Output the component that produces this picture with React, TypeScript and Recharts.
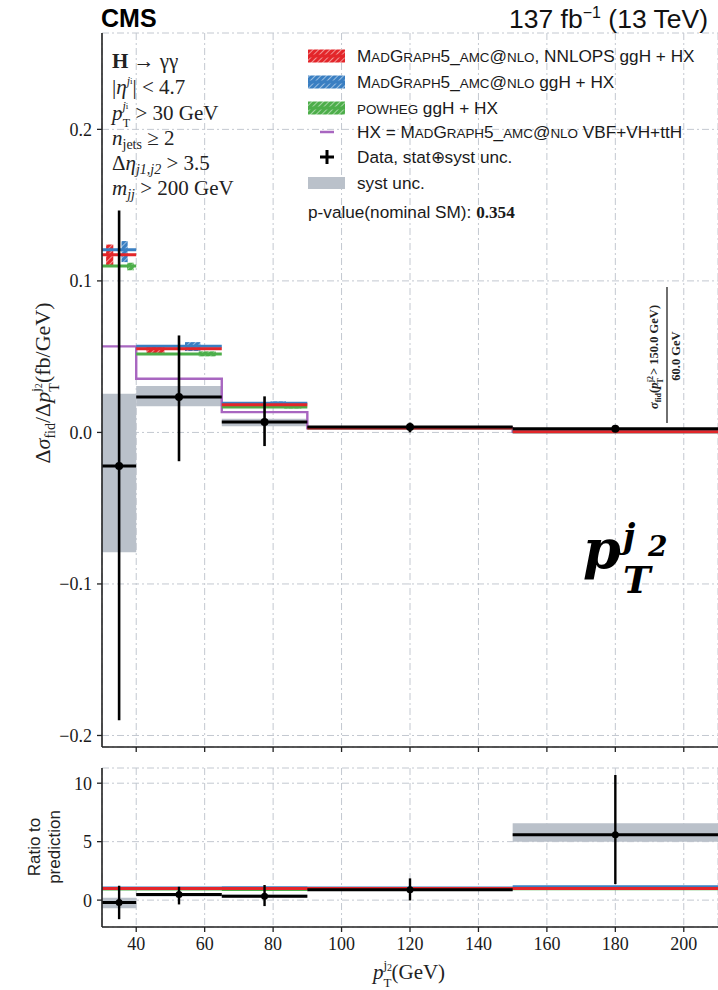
import React from 'react';
import {
  ComposedChart,
  Line,
  Scatter,
  XAxis,
  YAxis,
  CartesianGrid,
  ReferenceArea,
  ErrorBar,
} from 'recharts';

// Bin edges of the subleading-jet pT distribution (GeV)
const binEdges = [30, 40, 65, 90, 150, 210];
const binCenters = [35, 52.5, 77.5, 120, 180];
const xTicks = [40, 60, 80, 100, 120, 140, 160, 180, 200];
const yTicksMain = [-0.2, -0.1, 0.0, 0.1, 0.2];
const yTicksRatio = [0, 5, 10];

// Differential cross section predictions (fb/GeV)
const predNnlops = [0.1173, 0.0552, 0.0183, 0.003, 0.00043];
const predNnlopsLo = [0.110, 0.0523, 0.0172, 0.0027, 0.0003];
const predNnlopsHi = [0.124, 0.0574, 0.0194, 0.0033, 0.0005];
const predMg5 = [0.1206, 0.0568, 0.0193, 0.0031, 0.0005];
const predMg5Lo = [0.1124, 0.0537, 0.0183, 0.0028, 0.0004];
const predMg5Hi = [0.1263, 0.0596, 0.0205, 0.0034, 0.0006];
const predPowheg = [0.1098, 0.0517, 0.0167, 0.0029, 0.00042];
const predPowhegLo = [0.107, 0.0502, 0.0158, 0.0027, 0.0003];
const predPowhegHi = [0.112, 0.0535, 0.0176, 0.0031, 0.0005];
const predHx = [0.0568, 0.0354, 0.0134, 0.0028, 0.0004];

// Measurement (fb/GeV)
const dataValue = [-0.0222, 0.0233, 0.0068, 0.0035, 0.0024];
const dataErrUp = [0.1687, 0.0407, 0.017, 0.003, 0.0006];
const dataErrDown = [0.1678, 0.0423, 0.0158, 0.0035, 0.0006];
const systLo = [-0.079, 0.0172, 0.004, 0.0028, 0.0021];
const systHi = [0.0255, 0.0306, 0.009, 0.0038, 0.0027];

// Ratio to the NNLOPS prediction
const ratioData = [-0.2, 0.49, 0.34, 0.89, 5.6];
const ratioErrUp = [1.43, 0.65, 0.95, 0.97, 5.1];
const ratioErrDown = [1.43, 0.86, 0.85, 0.92, 4.23];
const ratioSystLo = [-0.7, 0.31, 0.22, 0.8, 5.0];
const ratioSystHi = [0.2, 0.55, 0.49, 0.97, 6.57];
const ratioNnlops = [1, 1, 1, 1, 1];
const ratioMg5 = [1.03, 1.03, 1.05, 1.03, 1.15];
const ratioPowheg = [0.94, 0.94, 0.91, 0.97, 0.97];

const RED = '#e3262a';
const BLUE = '#3a7fc2';
const GREEN = '#4dae4a';
const PURPLE = '#a866c0';
const GRAY = '#bac1ca';
const FRAME = '#222';
const GRID = '#c3c8d0';

const serif = "'Liberation Serif', 'DejaVu Serif', serif";
const sans = "'Liberation Sans', Arial, sans-serif";

type Pt = { x: number; y: number | null };

// Horizontal segment per bin, broken between bins
function binSegments(values: number[]): Pt[] {
  const pts: Pt[] = [];
  values.forEach((v, i) => {
    pts.push({ x: binEdges[i], y: v });
    pts.push({ x: binEdges[i + 1], y: v });
    pts.push({ x: binEdges[i + 1], y: null });
  });
  return pts;
}

// Continuous step histogram
function stepPoints(values: number[]): Pt[] {
  const pts: Pt[] = values.map((v, i) => ({ x: binEdges[i], y: v }));
  pts.push({ x: binEdges[binEdges.length - 1], y: values[values.length - 1] });
  return pts;
}

function pointsWithErrors(values: number[], up: number[], down: number[]) {
  return values.map((v, i) => ({
    x: binCenters[i],
    y: v,
    ey: [down[i], up[i]],
    ex: (binEdges[i + 1] - binEdges[i]) / 2,
  }));
}

const fmtMain = (v: number) => (v < 0 ? '\u2212' : '') + Math.abs(v).toFixed(1);

const tickStyle = { fontFamily: serif, fontSize: 18, fill: '#1a1a1a' };
const axisLineStyle = { stroke: FRAME, strokeWidth: 1.6 };
const tickLineStyle = { stroke: FRAME, strokeWidth: 1.3 };

// Hatched uncertainty boxes sit at fixed fractions across each bin
const models = [
  { key: 'powheg', lo: predPowhegLo, hi: predPowhegHi, span: [0.73, 0.93], fill: 'url(#hatchGreen)' },
  { key: 'mg5', lo: predMg5Lo, hi: predMg5Hi, span: [0.57, 0.75], fill: 'url(#hatchBlue)' },
  { key: 'nnlops', lo: predNnlopsLo, hi: predNnlopsHi, span: [0.12, 0.33], fill: 'url(#hatchRed)' },
];

const DataDot = (p: any) => <circle cx={p.cx} cy={p.cy} r={p.r ?? 4} fill="#000" />;

function MainPanel() {
  const dataPts = pointsWithErrors(dataValue, dataErrUp, dataErrDown);
  return (
    <ComposedChart width={718} height={761} margin={{ top: 33, right: 0, left: 42, bottom: 0 }}>
      <CartesianGrid stroke={GRID} strokeDasharray="7 3 2 3" strokeWidth={1} />
      <XAxis
        type="number"
        dataKey="x"
        domain={[30, 210]}
        ticks={xTicks}
        allowDataOverflow
        height={14}
        tickSize={5}
        tickFormatter={() => ''}
        axisLine={axisLineStyle}
        tickLine={tickLineStyle}
      />
      <XAxis xAxisId="top" orientation="top" type="number" domain={[30, 210]} height={0} tick={false} tickLine={false} axisLine={axisLineStyle} />
      <YAxis
        type="number"
        dataKey="y"
        domain={[-0.2076, 0.2636]}
        ticks={yTicksMain}
        allowDataOverflow
        width={60}
        tickSize={5}
        tickMargin={5}
        tickFormatter={fmtMain}
        tick={tickStyle}
        axisLine={axisLineStyle}
        tickLine={tickLineStyle}
      />
      {binCenters.map((_, i) => (
        <ReferenceArea
          key={'syst' + i}
          x1={binEdges[i]}
          x2={binEdges[i + 1]}
          y1={systLo[i]}
          y2={systHi[i]}
          fill={GRAY}
          fillOpacity={1}
          stroke="none"
        />
      ))}
      {models.map((m) =>
        binCenters.map((_, i) => {
          const w = binEdges[i + 1] - binEdges[i];
          return (
            <ReferenceArea
              key={m.key + i}
              x1={binEdges[i] + m.span[0] * w}
              x2={binEdges[i] + m.span[1] * w}
              y1={m.lo[i]}
              y2={m.hi[i]}
              fill={m.fill}
              fillOpacity={1}
              stroke="none"
            />
          );
        })
      )}
      <Line data={stepPoints(predHx)} dataKey="y" type="stepAfter" stroke={PURPLE} strokeWidth={2.4} dot={false} isAnimationActive={false} />
      <Line data={binSegments(predPowheg)} dataKey="y" type="linear" stroke={GREEN} strokeWidth={3} dot={false} connectNulls={false} isAnimationActive={false} />
      <Line data={binSegments(predMg5)} dataKey="y" type="linear" stroke={BLUE} strokeWidth={3} dot={false} connectNulls={false} isAnimationActive={false} />
      <Line data={binSegments(predNnlops)} dataKey="y" type="linear" stroke={RED} strokeWidth={3} dot={false} connectNulls={false} isAnimationActive={false} />
      <Scatter data={dataPts} dataKey="y" shape={<DataDot r={4} />} isAnimationActive={false}>
        <ErrorBar dataKey="ey" direction="y" width={0} stroke="#000" strokeWidth={2.6} />
        <ErrorBar dataKey="ex" direction="x" width={0} stroke="#000" strokeWidth={3} />
      </Scatter>
    </ComposedChart>
  );
}

function RatioPanel() {
  const dataPts = pointsWithErrors(ratioData, ratioErrUp, ratioErrDown);
  return (
    <ComposedChart width={718} height={230} margin={{ top: 8, right: 0, left: 42, bottom: 33 }}>
      <CartesianGrid stroke={GRID} strokeDasharray="7 3 2 3" strokeWidth={1} />
      <XAxis
        type="number"
        dataKey="x"
        domain={[30, 210]}
        ticks={xTicks}
        allowDataOverflow
        height={30}
        tickSize={5}
        tickMargin={5}
        tick={tickStyle}
        axisLine={axisLineStyle}
        tickLine={tickLineStyle}
      />
      <XAxis xAxisId="top" orientation="top" type="number" domain={[30, 210]} height={0} tick={false} tickLine={false} axisLine={axisLineStyle} />
      <YAxis
        type="number"
        dataKey="y"
        domain={[-2.3, 11.3]}
        ticks={yTicksRatio}
        allowDataOverflow
        width={60}
        tickSize={5}
        tickMargin={5}
        tick={tickStyle}
        axisLine={axisLineStyle}
        tickLine={tickLineStyle}
      />
      {binCenters.map((_, i) => (
        <ReferenceArea
          key={'rsyst' + i}
          x1={binEdges[i]}
          x2={binEdges[i + 1]}
          y1={ratioSystLo[i]}
          y2={ratioSystHi[i]}
          fill={GRAY}
          fillOpacity={1}
          stroke="none"
        />
      ))}
      <Line data={binSegments(ratioPowheg)} dataKey="y" type="linear" stroke={GREEN} strokeWidth={3} dot={false} connectNulls={false} isAnimationActive={false} />
      <Line data={binSegments(ratioMg5)} dataKey="y" type="linear" stroke={BLUE} strokeWidth={3} dot={false} connectNulls={false} isAnimationActive={false} />
      <Line data={binSegments(ratioNnlops)} dataKey="y" type="linear" stroke={RED} strokeWidth={3} dot={false} connectNulls={false} isAnimationActive={false} />
      <Scatter data={dataPts} dataKey="y" shape={<DataDot r={3.5} />} isAnimationActive={false}>
        <ErrorBar dataKey="ey" direction="y" width={0} stroke="#000" strokeWidth={2.4} />
        <ErrorBar dataKey="ex" direction="x" width={0} stroke="#000" strokeWidth={3} />
      </Scatter>
    </ComposedChart>
  );
}

// Small capitals: lowercase letters are set as reduced capitals
function SmallCaps({ text, size }: { text: string; size: number }) {
  const runs: { s: string; small: boolean }[] = [];
  for (const ch of text) {
    const small = ch >= 'a' && ch <= 'z';
    const last = runs[runs.length - 1];
    if (last && last.small === small) last.s += ch;
    else runs.push({ s: ch, small });
  }
  return (
    <>
      {runs.map((r, i) => (
        <tspan key={i} fontSize={r.small ? size * 0.78 : size}>
          {r.small ? r.s.toUpperCase() : r.s}
        </tspan>
      ))}
    </>
  );
}

function HatchSymbol({ x, y, fill, color }: { x: number; y: number; fill: string; color: string }) {
  return (
    <g>
      <rect x={x} y={y - 6.5} width={37} height={13} fill={fill} />
      <line x1={x} x2={x + 37} y1={y} y2={y} stroke={color} strokeWidth={3} />
    </g>
  );
}

const LEG = 17.2;

function Annotations() {
  const legendX = 357;
  const rows = [56, 82, 108, 132, 157, 183];
  return (
    <svg width={718} height={990} style={{ position: 'absolute', left: 0, top: 0, pointerEvents: 'none' }}>
      <defs>
        <pattern id="hatchRed" patternUnits="userSpaceOnUse" width="4" height="4" patternTransform="rotate(45)">
          <rect width="4" height="4" fill={RED} />
          <line x1="0" y1="0" x2="0" y2="4" stroke="#fbd0d0" strokeWidth="1.3" />
        </pattern>
        <pattern id="hatchBlue" patternUnits="userSpaceOnUse" width="4" height="4" patternTransform="rotate(45)">
          <rect width="4" height="4" fill={BLUE} />
          <line x1="0" y1="0" x2="0" y2="4" stroke="#cfe0f2" strokeWidth="1.3" />
        </pattern>
        <pattern id="hatchGreen" patternUnits="userSpaceOnUse" width="4" height="4" patternTransform="rotate(45)">
          <rect width="4" height="4" fill={GREEN} />
          <line x1="0" y1="0" x2="0" y2="4" stroke="#d3edd2" strokeWidth="1.3" />
        </pattern>
      </defs>

      {/* header */}
      <text x={101} y={27} fontFamily={sans} fontWeight="bold" fontSize={25} fill="#000">CMS</text>
      <text x={708} y={28} textAnchor="end" fontFamily={sans} fontSize={26.5} fill="#111">
        137 fb<tspan dy={-10} fontSize={16}>{'\u2212'}1</tspan><tspan dy={10}> (13 TeV)</tspan>
      </text>

      {/* selection */}
      <g fontFamily={serif} fontSize={21} fill="#222">
        <text x={112} y={68}><tspan fontWeight="bold">H</tspan> → γγ</text>
        <text x={112} y={94}>
          |<tspan fontStyle="italic">η</tspan>
          <tspan dy={-9} fontSize={12} fontStyle="italic">j</tspan>
          <tspan dy={-1} fontSize={9}>i</tspan>
          <tspan dy={10}>| &lt; 4.7</tspan>
        </text>
        <text x={112} y={120}>
          <tspan fontStyle="italic">p</tspan>
          <tspan dy={-10} fontSize={12} fontStyle="italic">j</tspan>
          <tspan dy={-1} fontSize={9}>i</tspan>
          <tspan dx={-5.5} dy={18} fontSize={12}>T</tspan>
          <tspan dy={-7}> &gt; 30 GeV</tspan>
        </text>
        <text x={112} y={145}>
          <tspan fontStyle="italic">n</tspan>
          <tspan dy={4} fontSize={14}>jets</tspan>
          <tspan dy={-4}> ≥ 2</tspan>
        </text>
        <text x={112} y={170}>
          Δ<tspan fontStyle="italic">η</tspan>
          <tspan dy={4} fontSize={14} fontStyle="italic">j1,j2</tspan>
          <tspan dy={-4}> &gt; 3.5</tspan>
        </text>
        <text x={112} y={195}>
          <tspan fontStyle="italic">m</tspan>
          <tspan dy={4} fontSize={14} fontStyle="italic">jj</tspan>
          <tspan dy={-4}> &gt; 200 GeV</tspan>
        </text>
      </g>

      {/* legend */}
      <HatchSymbol x={308} y={rows[0]} fill="url(#hatchRed)" color={RED} />
      <HatchSymbol x={308} y={rows[1]} fill="url(#hatchBlue)" color={BLUE} />
      <HatchSymbol x={308} y={rows[2]} fill="url(#hatchGreen)" color={GREEN} />
      <line x1={320} x2={334} y1={rows[3]} y2={rows[3]} stroke={PURPLE} strokeWidth={2.5} />
      <line x1={320} x2={334} y1={rows[4]} y2={rows[4]} stroke="#000" strokeWidth={3} />
      <line x1={327} x2={327} y1={rows[4] - 7} y2={rows[4] + 7} stroke="#000" strokeWidth={3} />
      <rect x={308} y={rows[5] - 6} width={37} height={12} fill={GRAY} />
      <g fontFamily={sans} fontSize={LEG} fill="#1a1a1a">
        <text x={legendX} y={rows[0] + 6}><SmallCaps text="MadGraph5_amc@nlo" size={LEG} />, NNLOPS ggH + HX</text>
        <text x={legendX} y={rows[1] + 6}><SmallCaps text="MadGraph5_amc@nlo" size={LEG} /> ggH + HX</text>
        <text x={legendX} y={rows[2] + 6}><SmallCaps text="powheg" size={LEG} /> ggH + HX</text>
        <text x={legendX} y={rows[3] + 6}>HX = <SmallCaps text="MadGraph5_amc@nlo" size={LEG} /> VBF+VH+ttH</text>
        <text x={legendX} y={rows[4] + 6}>Data, stat⊕syst unc.</text>
        <text x={legendX} y={rows[5] + 6}>syst unc.</text>
        <text x={308} y={218}>
          p-value(nominal SM): <tspan fontFamily={serif} fontWeight="bold">0.354</tspan>
        </text>
      </g>

      {/* overflow bin label */}
      <g fontFamily={serif} fontWeight="bold" fill="#222">
        <text x={658} y={357} fontSize={12.5} textAnchor="middle" transform="rotate(-90 658 357)">
          <tspan fontStyle="italic">σ</tspan>
          <tspan dy={3} fontSize={8}>fid</tspan>
          <tspan dy={-3}>(</tspan>
          <tspan fontStyle="italic">p</tspan>
          <tspan dy={-5} fontSize={8}>j2</tspan>
          <tspan dx={-7.5} dy={10} fontSize={8}>T</tspan>
          <tspan dy={-5}> &gt; 150.0 GeV)</tspan>
        </text>
        <line x1={667} x2={667} y1={287} y2={423} stroke="#222" strokeWidth={1.3} />
        <text x={680} y={356} fontSize={12.5} textAnchor="middle" transform="rotate(-90 680 356)">60.0 GeV</text>
      </g>

      {/* large variable label */}
      <g fontFamily="'DejaVu Serif', serif" fontWeight="bold" fontStyle="italic" fill="#000">
        <text x={583} y={568} fontSize={54}>p</text>
        <text x={623} y={548} fontSize={34}>j</text>
        <text x={648} y={556} fontSize={28}>2</text>
        <text x={623} y={593} fontSize={37}>T</text>
      </g>

      {/* axis titles */}
      <text x={50} y={383} fontFamily={serif} fontSize={22} fill="#222" textAnchor="middle" transform="rotate(-90 50 383)">
        Δ<tspan fontStyle="italic">σ</tspan>
        <tspan dy={5} fontSize={14}>fid</tspan>
        <tspan dy={-5}>/Δ</tspan>
        <tspan fontStyle="italic">p</tspan>
        <tspan dy={-10} fontSize={13}>j</tspan>
        <tspan dy={2} fontSize={10}>2</tspan>
        <tspan dx={-8.5} dy={17} fontSize={14}>T</tspan>
        <tspan dy={-9}>(fb/GeV)</tspan>
      </text>
      <g fontFamily={sans} fontSize={17} fill="#222" textAnchor="middle">
        <text x={40} y={847} transform="rotate(-90 40 847)">Ratio to</text>
        <text x={60} y={847} transform="rotate(-90 60 847)">prediction</text>
      </g>
      <text x={409} y={979} fontFamily={serif} fontSize={21} fill="#222" textAnchor="middle">
        <tspan fontStyle="italic">p</tspan>
        <tspan dy={-10} fontSize={13}>j</tspan>
        <tspan dy={2} fontSize={10}>2</tspan>
        <tspan dx={-8.5} dy={16} fontSize={13}>T</tspan>
        <tspan dy={-8}>(GeV)</tspan>
      </text>
    </svg>
  );
}

export default function App() {
  return (
    <div style={{ position: 'absolute', left: 0, top: 0, width: 718, height: 990, background: '#fff', overflow: 'hidden' }}>
      <div style={{ position: 'absolute', left: 0, top: 0 }}>
        <MainPanel />
      </div>
      <div style={{ position: 'absolute', left: 0, top: 760 }}>
        <RatioPanel />
      </div>
      <Annotations />
    </div>
  );
}
